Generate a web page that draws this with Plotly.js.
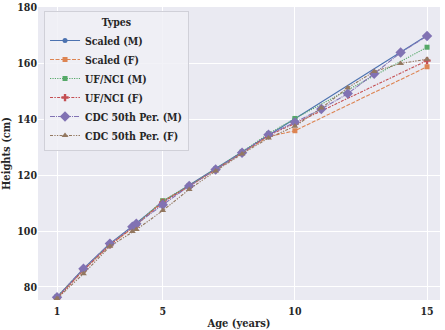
<!DOCTYPE html>
<html>
<head>
<meta charset="utf-8">
<script src="https://cdn.plot.ly/plotly-3.0.1.min.js"></script>
<style>
  body { margin: 0; }
  #chart { width: 445px; height: 330px; }
</style>
</head>
<body>
<div id="chart"></div>
<script>
// ages (years)
const agesScaled = [1, 2, 3, 4, 5, 6, 7, 8, 9, 10, 15];
const agesCdc = [1, 2, 3, 3.85, 4, 5, 6, 7, 8, 9, 10, 11, 12, 13, 14, 15];

// heights (cm)
const scaledM = [76.3, 86.5, 95.5, 102.8, 110.5, 116.5, 122.3, 128.2, 134.5, 140.2, 170.0];
const scaledF = [76.0, 86.0, 95.0, 102.0, 110.8, 116.0, 122.0, 128.0, 133.8, 135.9, 158.8];
const ufnciM  = [76.5, 86.3, 95.3, 102.5, 110.8, 116.3, 122.2, 128.3, 134.8, 140.3, 165.8];
const ufnciF  = [76.0, 86.0, 95.0, 102.3, 110.2, 116.0, 122.0, 128.0, 134.2, 138.5, 161.0];
const cdcM = [76.3, 86.5, 95.5, 101.5, 102.6, 109.4, 116.1, 122.0, 128.0, 134.5, 138.9, 143.7, 149.2, 156.3, 163.9, 169.8];
const cdcF = [75.8, 84.7, 94.5, 99.8, 100.5, 107.3, 114.9, 121.5, 127.6, 133.3, 137.5, 144.0, 151.3, 157.1, 160.0, 161.5];

const names = ["Scaled (M)", "Scaled (F)", "UF/NCI (M)", "UF/NCI (F)", "CDC 50th Per. (M)", "CDC 50th Per. (F)"];
const colors = ["#4c72b0", "#dd8452", "#55a868", "#c44e52", "#8172b3", "#937860"];

const mkTrace = (i, x, y, dash, symbol, size) => ({
  x: x,
  y: y,
  name: names[i],
  type: "scatter",
  mode: "lines+markers",
  line: {color: colors[i], width: 1.1, dash: dash},
  marker: {color: colors[i], symbol: symbol, size: size, line: {width: 0}}
});

const data = [
  mkTrace(0, agesScaled, scaledM, "solid", "circle", 5),
  mkTrace(1, agesScaled, scaledF, "4px,1.5px", "square", 5),
  mkTrace(2, agesScaled, ufnciM, "1.2px,1.2px", "square", 5),
  mkTrace(3, agesScaled, ufnciF, "3px,1.3px,1.5px,1.3px", "cross", 6),
  mkTrace(4, agesCdc, cdcM, "5px,1px,1px,1px", "diamond", 8),
  mkTrace(5, agesCdc, cdcF, "3px,1.3px,1.3px,1.3px,1.3px,1.3px", "triangle-up", 6)
];

const font = {family: "DejaVu Serif Condensed, DejaVu Serif, serif", color: "#262626"};

const layout = {
  width: 445,
  height: 330,
  margin: {l: 38, r: 5, t: 7, b: 30},
  paper_bgcolor: "#ffffff",
  plot_bgcolor: "#eaeaf2",
  font: Object.assign({size: 10.5}, font),
  showlegend: true,
  legend: {
    x: 0.015, y: 0.985, xanchor: "left", yanchor: "top",
    bgcolor: "rgba(240,240,246,0.85)",
    bordercolor: "#d0d0d8", borderwidth: 1,
    font: Object.assign({size: 10.5, weight: "bold"}, font),
    title: {text: "<b>Types</b>", side: "top center", font: Object.assign({size: 10.5}, font)},
    itemwidth: 30
  },
  xaxis: {
    range: [0.28, 15.49],
    tickvals: [1, 5, 10, 15],
    ticks: "",
    ticklabelstandoff: 3,
    showgrid: true, gridcolor: "#ffffff", gridwidth: 1,
    zeroline: false, showline: false,
    tickfont: Object.assign({size: 10.5, weight: "bold"}, font),
    title: {text: "<b>Age (years)</b>", font: Object.assign({size: 11}, font), standoff: 4}
  },
  yaxis: {
    range: [75.3, 180.2],
    tickvals: [80, 100, 120, 140, 160, 180],
    ticks: "",
    ticklabeloverflow: "allow",
    showgrid: true, gridcolor: "#ffffff", gridwidth: 1,
    zeroline: false, showline: false,
    tickfont: Object.assign({size: 10.5, weight: "bold"}, font),
    title: {text: "<b>Heights (cm)</b>", font: Object.assign({size: 11}, font), standoff: 6}
  }
};

Plotly.newPlot("chart", data, layout, {displayModeBar: false, staticPlot: true});
</script>
</body>
</html>
